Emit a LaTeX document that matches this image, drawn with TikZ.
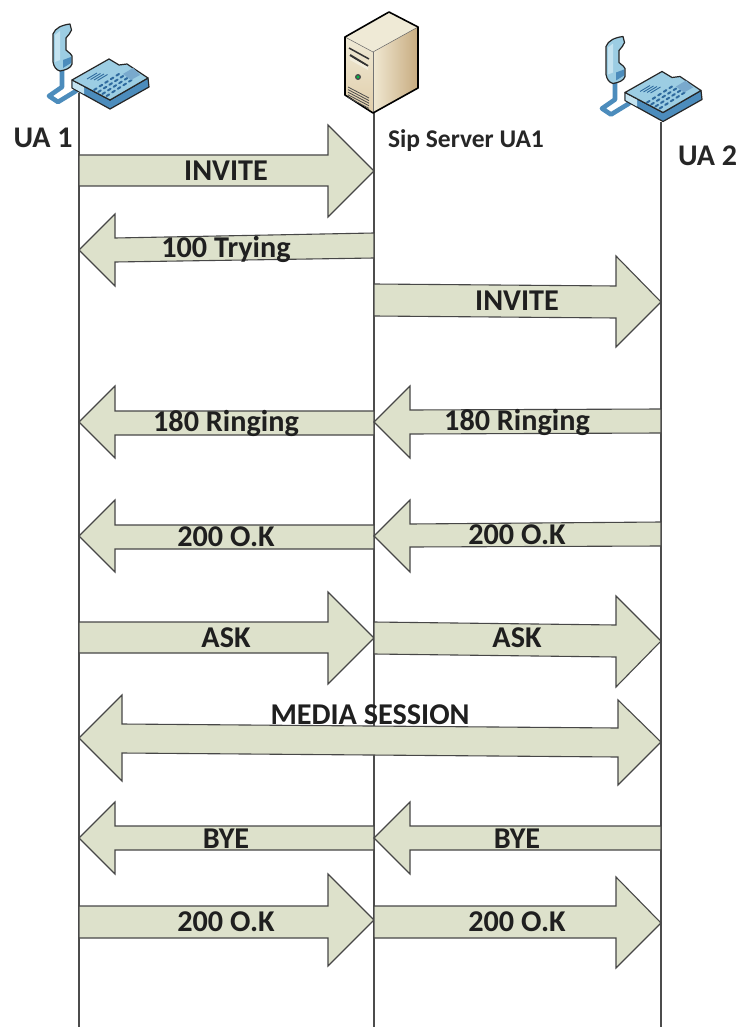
\documentclass[tikz,border=0pt]{standalone}
\usepackage{fontspec}
\setmainfont{Carlito}
\begin{document}
\begin{tikzpicture}[x=1pt,y=-1pt,
  lifeline/.style={draw=black!70,line width=1.1pt},
  blockarrow/.style={draw=black!72,line width=1.1pt,fill=arrowfill,line join=miter},
  msg/.style={font=\fontsize{30.2}{34}\selectfont\bfseries,text=black!88,inner sep=0pt,yshift=-1pt},
  actor/.style={font=\fontsize{30}{34}\selectfont\bfseries,text=black!85,inner sep=0pt},
  srv/.style={font=\fontsize{25.5}{30}\selectfont\bfseries,text=black!85,inner sep=0pt},
  outl/.style={draw=black!85,line width=1.2pt,line join=round},
]
\definecolor{arrowfill}{HTML}{DDE1CB}
\definecolor{phonetop}{HTML}{9CCDE3}
\definecolor{phoneside}{HTML}{4C8CBC}
\definecolor{phonedark}{HTML}{2F6A9E}
\definecolor{phonelight}{HTML}{C4E3F0}
\definecolor{srvtop}{HTML}{EFEAD6}
\definecolor{srvfront}{HTML}{E9E1C4}
\definecolor{srvside}{HTML}{C9B68F}
\definecolor{srvsidel}{HTML}{F0E8D2}
\useasboundingbox (0,0) rectangle (740,1027);
\fill[white] (0,0) rectangle (740,1027);

\newcommand{\phoneicon}{%
  % cord
  \draw[phoneside,line width=4.6pt,line join=round,line cap=round]
    (62,68) -- (62,87) -- (49,96) -- (58,102) -- (76,91);
  % handset
  \draw[outl,fill=phonetop]
    (70,24) .. controls (62,25) and (55,28) .. (53,34) -- (53,62)
    .. controls (54,67) and (56,70) .. (60,71) .. controls (66,70) and (71,68) .. (72,64)
    -- (72,56) .. controls (70,52) and (67,52) .. (66,50) -- (66,38)
    .. controls (68,35) and (71,33) .. (71.5,30) -- cycle;
  \fill[phoneside] (63,60) -- (71,57) -- (71,63) -- (63,68) -- cycle;
  \fill[phonelight] (55,35) -- (60,31) -- (60,60) -- (55,62) -- cycle;
  % body
  \draw[outl,fill=phoneside] (72,80) -- (72,88) -- (110,109) -- (149,87) -- (148,78) -- (110,100) -- cycle;
  \fill[phonelight] (72.6,81) -- (72.6,87.6) -- (84,94) -- (84,87) -- cycle;
  \draw[outl,fill=phonetop] (72,80) -- (109,59) -- (119,65) -- (127,64) -- (148,78) -- (110,100) -- cycle;
  % speaker lines
  \foreach \k in {0,1,2,3}
    \draw[phonedark,line width=0.9pt] (87+3.5*\k,79-1.5*\k+2*\k) -- ++(10,-6);
  % keypad
  \foreach \i in {0,...,4} \foreach \j in {0,...,3}
    \draw[phonedark,line width=2pt,line cap=round]
      (94+5.6*\i+4.2*\j,90-3.6*\i+2*\j) -- ++(2.6,-1.6);
  % display
  \fill[phoneside!75!white] (123,74) -- (133,68) -- (140,75) -- (131,80) -- cycle;
}

% lifelines
\coordinate (ua1top) at (79,93);
\coordinate (ua1end) at (79,1027);
\coordinate (srvtopc) at (374,112);
\coordinate (srvend) at (374,1027);
\coordinate (ua2top) at (661,122);
\coordinate (ua2end) at (661,1027);
\draw[lifeline] (ua1top) -- (ua1end);
\draw[lifeline] (srvtopc) -- (srvend);
\draw[lifeline] (ua2top) -- (ua2end);

% icons
\phoneicon
\begin{scope}[shift={(553,12.5)}]
\phoneicon
\end{scope}

% server
\fill[srvtop] (345,37) -- (389,12) -- (418,27) -- (373,52) -- cycle;
\shade[top color=srvtop,bottom color=srvfront!80!brown] (345,37) -- (373,52) -- (373,113) -- (345,95) -- cycle;
\shade[left color=srvsidel,right color=srvside!80!brown] (373,52) -- (418,27) -- (418,88) -- (373,113) -- cycle;
\draw[black!55,line width=0.5pt] (373,52) -- (373,113);
\draw[black!60,line width=0.5pt] (345,37) -- (373,52) -- (418,27);
\draw[black,line width=1.6pt,line join=round] (345,37) -- (389,12) -- (418,27) -- (418,88) -- (373,113) -- (345,95) -- cycle;
\draw[black!80,line width=1.5pt] (349,48) -- (369,59);
\draw[black!80,line width=2pt] (350,55) -- (368,66);
\fill[srvfront!60!white] (350,57) -- (368,67) -- (368,70) -- (350,60) -- cycle;
\fill[black!70] (358,77) circle (3);
\fill[green!45!teal] (358,77) circle (1.7);
\foreach \k in {0,1,2,3,4}
  \draw[black!70,line width=0.8pt] (348,87+2.6*\k) -- (369,98+2.6*\k);

% block arrows
\draw[blockarrow] (79,155) -- (328,155) -- (328,125) -- (374,171) -- (328,217) -- (328,186) -- (79,186) -- cycle;
\draw[blockarrow] (79,250) -- (115,214) -- (115,238) -- (374,233) -- (374,258) -- (115,262) -- (115,286) -- cycle;
\draw[blockarrow] (374,284) -- (616,286) -- (616,256) -- (661,302) -- (616,347) -- (616,318) -- (374,316) -- cycle;
\draw[blockarrow] (79,422) -- (115,386) -- (115,411) -- (374,411) -- (374,435) -- (115,435) -- (115,458) -- cycle;
\draw[blockarrow] (374,422) -- (410,386) -- (410,410) -- (661,409) -- (661,433) -- (410,434) -- (410,458) -- cycle;
\draw[blockarrow] (79,536) -- (115,500) -- (115,525) -- (374,525) -- (374,549) -- (115,549) -- (115,572) -- cycle;
\draw[blockarrow] (374,536) -- (410,500) -- (410,524) -- (661,522) -- (661,546) -- (410,547) -- (410,572) -- cycle;
\draw[blockarrow] (79,622) -- (328,622) -- (328,592) -- (374,638) -- (328,684) -- (328,653) -- (79,653) -- cycle;
\draw[blockarrow] (374,622) -- (616,625) -- (616,596) -- (661,641) -- (616,687) -- (616,657) -- (374,654) -- cycle;
\draw[blockarrow] (79,738) -- (122,695) -- (122,724) -- (618,728) -- (618,700) -- (661,742) -- (618,785) -- (618,757) -- (122,753) -- (122,781) -- cycle;
\draw[blockarrow] (79,838) -- (115,802) -- (115,826) -- (374,826) -- (374,850) -- (115,850) -- (115,874) -- cycle;
\draw[blockarrow] (374,838) -- (410,802) -- (410,826) -- (661,826) -- (661,850) -- (410,850) -- (410,874) -- cycle;
\draw[blockarrow] (79,906) -- (328,906) -- (328,874) -- (374,920) -- (328,966) -- (328,938) -- (79,938) -- cycle;
\draw[blockarrow] (374,906) -- (616,906) -- (616,877) -- (661,923) -- (616,968) -- (616,938) -- (374,938) -- cycle;

% labels
\node[actor] (ua1) at (43,138) {UA 1};
\node[actor] (ua2) at (707.5,156) {UA 2};
\node[srv] (sipsrv) at (466,141) {Sip Server UA1};
\node[msg] (m1) at (226,170) {INVITE};
\node[msg] (m2) at (226,248) {100 Trying};
\node[msg] (m3) at (517,300) {INVITE};
\node[msg] (m4) at (226,422) {180 Ringing};
\node[msg] (m5) at (517,421) {180 Ringing};
\node[msg] (m6) at (226,536) {200 O.K};
\node[msg] (m7) at (517,534) {200 O.K};
\node[msg] (m8) at (226,637) {ASK};
\node[msg] (m9) at (517,637) {ASK};
\node[msg] (m10) at (370,714) {MEDIA SESSION};
\node[msg] (m11) at (226,838) {BYE};
\node[msg] (m12) at (517,838) {BYE};
\node[msg] (m13) at (226,921) {200 O.K};
\node[msg] (m14) at (517,921) {200 O.K};
\end{tikzpicture}
\end{document}
